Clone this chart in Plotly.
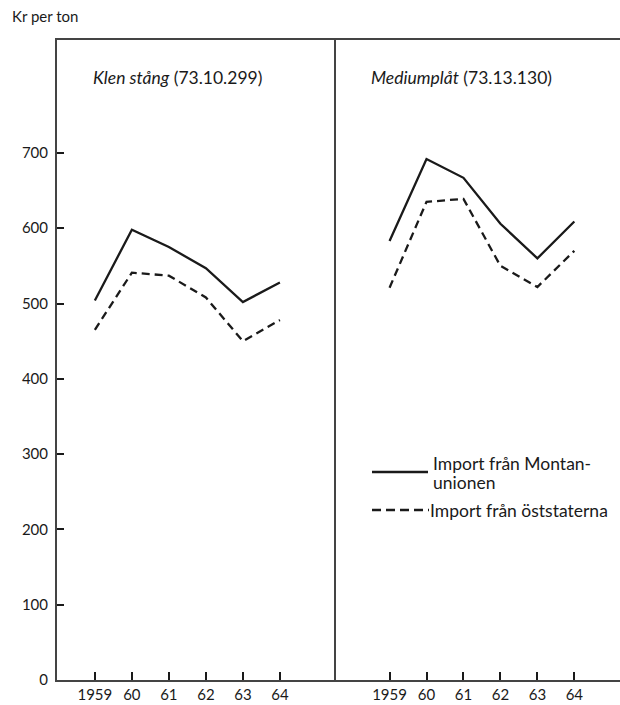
import plotly.graph_objects as go
from plotly.subplots import make_subplots

years = [1959, 1960, 1961, 1962, 1963, 1964]
year_labels = ["1959", "60", "61", "62", "63", "64"]

klen_montan = [504, 598, 575, 547, 502, 528]
klen_ost = [465, 541, 537, 508, 450, 478]
medium_montan = [583, 692, 667, 606, 560, 609]
medium_ost = [521, 635, 639, 550, 522, 570]

y_ticks = [0, 100, 200, 300, 400, 500, 600, 700]

panel_titles = ["<i>Klen stång</i> (73.10.299)", "<i>Mediumplåt</i> (73.13.130)"]
legend_solid_lines = ["Import från Montan-", "unionen"]
legend_dash_text = "Import från öststaterna"

FONT = "Lato, 'Open Sans', 'DejaVu Sans', sans-serif"
INK = "#1a1a1a"

# screen geometry (page body margin removed by post_script)
W, H = 620, 705
AX_L, DIV, AX_T, AX_B, AX_R = 57, 334.3, 40, 680, 620

ML, MT, MR = AX_L, AX_T, W - AX_R
MB = H - AX_B
plot_w = AX_R - AX_L
plot_h = AX_B - AX_T
split = (DIV - AX_L) / plot_w


def py(sy):
    return 1 - (sy - AX_T) / plot_h


def px1(sx):
    return (sx - AX_L) / (DIV - AX_L)


def px2(sx):
    return (sx - DIV) / (AX_R - DIV)


fig = make_subplots(rows=1, cols=2, shared_yaxes=False, horizontal_spacing=0,
                    column_widths=[split, 1 - split])

line_solid = dict(color=INK, width=2.3)
line_dash = dict(color=INK, width=2.3, dash="8px,5px")

fig.add_trace(go.Scatter(x=years, y=klen_montan, mode="lines", line=line_solid,
                         name="Import från Montanunionen", showlegend=False), row=1, col=1)
fig.add_trace(go.Scatter(x=years, y=klen_ost, mode="lines", line=line_dash,
                         name=legend_dash_text, showlegend=False), row=1, col=1)
fig.add_trace(go.Scatter(x=years, y=medium_montan, mode="lines", line=line_solid,
                         name="Import från Montanunionen", showlegend=False), row=1, col=2)
fig.add_trace(go.Scatter(x=years, y=medium_ost, mode="lines", line=line_dash,
                         name=legend_dash_text, showlegend=False), row=1, col=2)

xcommon = dict(tickmode="array", tickvals=years, ticktext=year_labels,
               ticks="inside", ticklen=8, tickwidth=1.5, tickcolor=INK,
               showline=True, linecolor="#444", linewidth=2, mirror=True,
               showgrid=False, zeroline=False,
               tickfont=dict(family=FONT, size=15, color=INK))
fig.update_xaxes(**xcommon)
fig.update_xaxes(range=[1957.977, 1965.47], row=1, col=1)
fig.update_xaxes(range=[1957.505, 1965.235], row=1, col=2)

fig.update_yaxes(range=[0, 850], showgrid=False, zeroline=False)
fig.update_yaxes(tickmode="array", tickvals=y_ticks, ticks="inside", ticklen=7,
                 tickwidth=1.5, tickcolor=INK, showline=True, linecolor="#444",
                 linewidth=2, mirror=True, ticklabelstandoff=4,
                 tickfont=dict(family=FONT, size=15, color=INK), row=1, col=1)
fig.update_yaxes(showticklabels=False, ticks="", showline=False, row=1, col=2)

annotations = [
    dict(text="Kr per ton", xref="paper", yref="paper", x=(10 - AX_L) / plot_w, y=py(16),
         xanchor="left", yanchor="middle", showarrow=False,
         font=dict(family=FONT, size=15, color=INK)),
    dict(text=panel_titles[0], xref="x domain", yref="paper", x=px1(91), y=py(78),
         xanchor="left", yanchor="middle", showarrow=False,
         font=dict(family=FONT, size=17.5, color=INK)),
    dict(text=panel_titles[1], xref="x2 domain", yref="paper", x=px2(369), y=py(78),
         xanchor="left", yanchor="middle", showarrow=False,
         font=dict(family=FONT, size=17.5, color=INK)),
]

# custom legend inside the right panel
fig.add_shape(type="line", xref="x2 domain", yref="paper",
              x0=px2(372), x1=px2(428), y0=py(472), y1=py(472),
              line=dict(color=INK, width=2.5))
fig.add_shape(type="line", xref="x2 domain", yref="paper",
              x0=px2(372), x1=px2(429), y0=py(510), y1=py(510),
              line=dict(color=INK, width=2.5, dash="9px,5px"))
for txt, sy in zip(legend_solid_lines, [463, 482]):
    annotations.append(dict(text=txt, xref="x2 domain", yref="paper",
                            x=px2(431), y=py(sy), xanchor="left", yanchor="middle",
                            align="left", showarrow=False,
                            font=dict(family=FONT, size=17.5, color=INK)))
annotations.append(dict(text=legend_dash_text, xref="x2 domain", yref="paper",
                        x=px2(428), y=py(510), xanchor="left", yanchor="middle",
                        align="left", showarrow=False,
                        font=dict(family=FONT, size=17.5, color=INK)))

fig.update_layout(width=W, height=H, margin=dict(l=ML, r=MR, t=MT, b=MB, pad=0),
                  paper_bgcolor="white", plot_bgcolor="white",
                  annotations=annotations, showlegend=False)

fig.write_html("out.html", config={"displayModeBar": False},
               post_script="document.body.style.margin='0';document.body.style.overflow='hidden';")
